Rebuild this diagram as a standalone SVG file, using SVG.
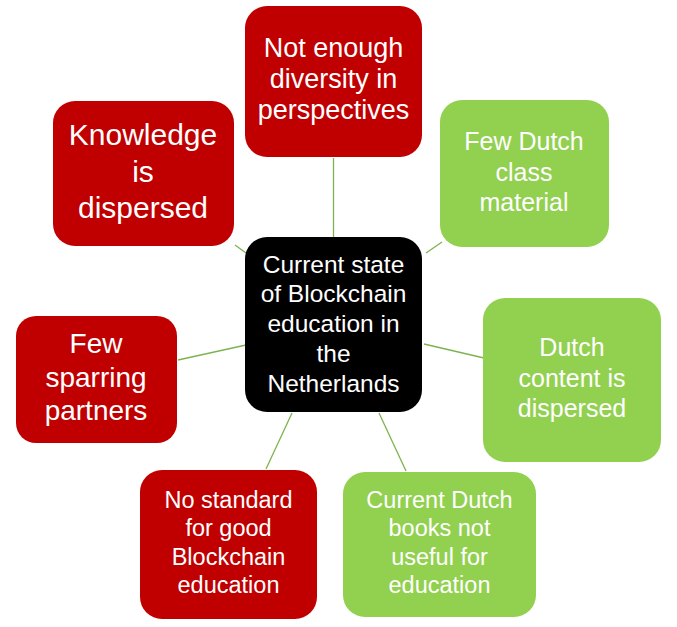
<svg xmlns="http://www.w3.org/2000/svg" width="677" height="627" viewBox="0 0 677 627">
<style>
.red{fill:#C00000}
.green{fill:#92D050}
.blk{fill:#000000}
text{font-family:"Liberation Sans",Arial,sans-serif;fill:#FFFFFF;text-anchor:middle}
.conn line{stroke:#7DB34F;stroke-width:1.3}
</style>
<rect width="677" height="627" fill="#FFFFFF"/>
<g class="conn" id="connectors">
<line x1="333.5" y1="158" x2="333.5" y2="237"/>
<line x1="235" y1="245" x2="246" y2="253"/>
<line x1="442" y1="242" x2="426" y2="253"/>
<line x1="178" y1="360" x2="246" y2="345"/>
<line x1="424" y1="344" x2="484" y2="358"/>
<line x1="292" y1="413" x2="266" y2="469"/>
<line x1="379" y1="413" x2="406" y2="471"/>
</g>
<g id="center">
<rect class="blk" x="245" y="237" width="177" height="175" rx="22"/>
<text font-size="24.5"><tspan x="333.5" y="273">Current state</tspan><tspan x="333.5" y="302">of Blockchain</tspan><tspan x="333.5" y="332">education in</tspan><tspan x="333.5" y="362">the</tspan><tspan x="333.5" y="392">Netherlands</tspan></text>
</g>
<g id="diversity">
<rect class="red" x="245" y="6" width="177" height="151" rx="22"/>
<text font-size="27"><tspan x="333.5" y="57">Not enough</tspan><tspan x="333.5" y="88">diversity in</tspan><tspan x="333.5" y="119">perspectives</tspan></text>
</g>
<g id="knowledge">
<rect class="red" x="53" y="101" width="181" height="145" rx="22"/>
<text font-size="30"><tspan x="143" y="145">Knowledge</tspan><tspan x="143" y="182">is</tspan><tspan x="143" y="218">dispersed</tspan></text>
</g>
<g id="classmaterial">
<rect class="green" x="440" y="100" width="169" height="147" rx="22"/>
<text font-size="25"><tspan x="524" y="150">Few Dutch</tspan><tspan x="524" y="181">class</tspan><tspan x="524" y="211">material</tspan></text>
</g>
<g id="sparring">
<rect class="red" x="16" y="316" width="161" height="127" rx="20"/>
<text font-size="28"><tspan x="96" y="353">Few</tspan><tspan x="96" y="387">sparring</tspan><tspan x="96" y="420">partners</tspan></text>
</g>
<g id="content">
<rect class="green" x="483" y="298" width="178" height="164" rx="22"/>
<text font-size="25"><tspan x="572" y="356">Dutch</tspan><tspan x="572" y="387">content is</tspan><tspan x="572" y="417">dispersed</tspan></text>
</g>
<g id="standard">
<rect class="red" x="140" y="470" width="177" height="149" rx="22"/>
<text font-size="23.5"><tspan x="228.5" y="508">No standard</tspan><tspan x="228.5" y="536">for good</tspan><tspan x="228.5" y="565">Blockchain</tspan><tspan x="228.5" y="593">education</tspan></text>
</g>
<g id="books">
<rect class="green" x="343" y="472" width="193" height="145" rx="22"/>
<text font-size="23.5"><tspan x="439.5" y="508">Current Dutch</tspan><tspan x="439.5" y="536">books not</tspan><tspan x="439.5" y="565">useful for</tspan><tspan x="439.5" y="593">education</tspan></text>
</g>
</svg>
